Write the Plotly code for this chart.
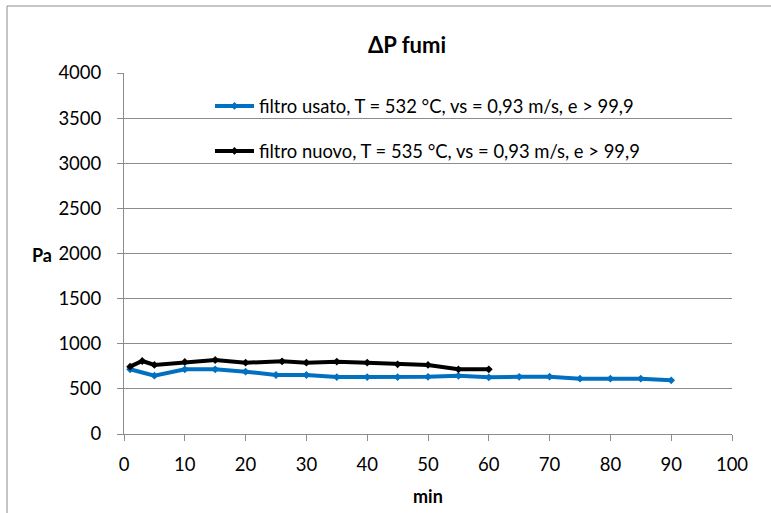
import plotly.graph_objects as go

# time (min) and pressure drop (Pa)
min_usato = [1, 5, 10, 15, 20, 25, 30, 35, 40, 45, 50, 55, 60, 65, 70, 75, 80, 85, 90]
pa_usato = [717, 646, 717, 717, 691, 654, 654, 631, 631, 631, 633, 645, 628, 633, 635, 613, 613, 613, 595]

min_nuovo = [1, 3, 5, 10, 15, 20, 26, 30, 35, 40, 45, 50, 55, 60]
pa_nuovo = [746, 809, 765, 798, 820, 790, 805, 790, 801, 790, 772, 765, 717, 717]

label_usato = "filtro usato, T = 532 °C, vs = 0,93 m/s, e > 99,9"
label_nuovo = "filtro nuovo, T = 535 °C, vs = 0,93 m/s, e > 99,9"

FONT = "Lato, 'Liberation Sans', sans-serif"
GRID = "#8c8c8c"

W, H = 771, 513
ML, MR, MT, MB = 124, 39, 73, 79
PW, PH = W - ML - MR, H - MT - MB


def px_x(p):
    return (p - ML) / PW


def px_y(p):
    return (H - MB - p) / PH


fig = go.Figure()
fig.add_trace(go.Scatter(
    x=min_usato, y=pa_usato, mode="lines+markers", name=label_usato,
    line=dict(color="#0070c0", width=4),
    marker=dict(symbol="diamond", size=6, color="#0070c0"),
    showlegend=True, legend="legend",
))
fig.add_trace(go.Scatter(
    x=min_nuovo, y=pa_nuovo, mode="lines+markers", name=label_nuovo,
    line=dict(color="#000000", width=4),
    marker=dict(symbol="diamond", size=6, color="#000000"),
    showlegend=True, legend="legend2",
))

legend_common = dict(
    xanchor="left", yanchor="middle", bgcolor="rgba(0,0,0,0)",
    font=dict(family=FONT, size=18.4, color="#000000"),
    itemwidth=39, visible=True,
)

fig.update_layout(
    width=W, height=H,
    margin=dict(l=ML, r=MR, t=MT, b=MB),
    paper_bgcolor="white", plot_bgcolor="white",
    font=dict(family=FONT, size=18, color="#000000"),
    showlegend=True,
    title=dict(text="<b>ΔP fumi</b>", x=407 / W, xanchor="center",
               y=1 - 45 / H, yanchor="middle", font=dict(size=22)),
    legend=dict(x=px_x(210), y=px_y(106), **legend_common),
    legend2=dict(x=px_x(210), y=px_y(151), **legend_common),
    xaxis=dict(range=[0, 100], tick0=0, dtick=10, showgrid=False,
               showline=True, linecolor=GRID, ticks="outside", ticklen=6,
               tickcolor=GRID, zeroline=False, tickfont=dict(size=18.5),
               ticklabelstandoff=8),
    yaxis=dict(range=[0, 4000], dtick=500, showgrid=True, gridcolor=GRID,
               showline=True, linecolor=GRID, ticks="outside", ticklen=6,
               tickcolor=GRID, zeroline=False, tickfont=dict(size=18.5),
               ticklabelstandoff=12),
    annotations=[
        dict(text="<b>Pa</b>", xref="paper", yref="paper", xanchor="center",
             yanchor="middle", x=px_x(42), y=px_y(255), showarrow=False,
             font=dict(size=18)),
        dict(text="<b>min</b>", xref="paper", yref="paper", xanchor="center",
             yanchor="middle", x=px_x(428), y=px_y(496), showarrow=False,
             font=dict(size=18)),
    ],
    shapes=[
        dict(type="rect", xref="paper", yref="paper",
             x0=px_x(7), x1=px_x(W + 10), y0=px_y(H + 10), y1=px_y(6),
             line=dict(color=GRID, width=1)),
    ],
)

fig.write_html("out.html", config={"displayModeBar": False},
               post_script="document.body.style.margin = '0';")
